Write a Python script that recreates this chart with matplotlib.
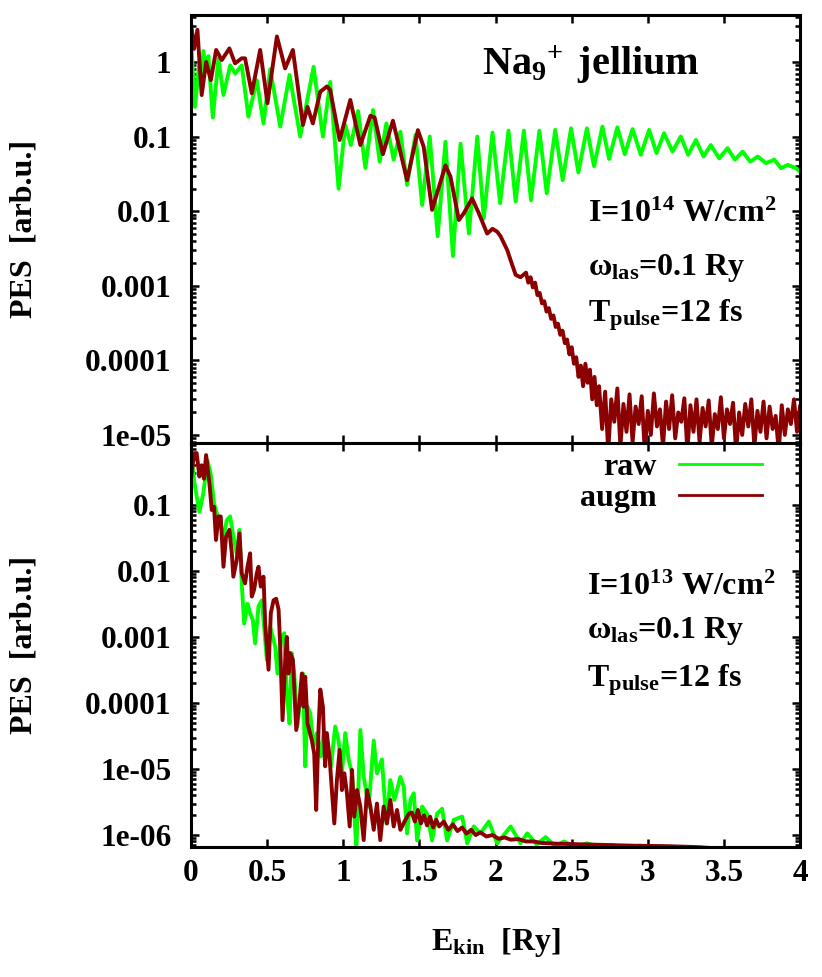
import numpy as np
import matplotlib.pyplot as plt
from matplotlib.ticker import LogLocator, NullFormatter

# === Werte ===
# oberes Panel: I = 1e14 W/cm^2
e_top_raw = [0.0, 0.026, 0.055, 0.07, 0.081, 0.1, 0.114, 0.143, 0.18, 0.213, 0.257, 0.29,
             0.333, 0.377, 0.432, 0.476, 0.52, 0.586, 0.647, 0.717, 0.805, 0.866, 0.914,
             0.969, 1.013, 1.05, 1.097, 1.145, 1.195, 1.239, 1.283, 1.331, 1.375, 1.419,
             1.474, 1.518, 1.568, 1.62, 1.671, 1.72, 1.77, 1.825, 1.88, 1.923, 1.98, 2.03,
             2.085, 2.132, 2.186, 2.233, 2.288, 2.336, 2.392, 2.441, 2.496, 2.544, 2.6,
             2.647, 2.702, 2.746, 2.8, 2.849, 2.9, 2.954, 3.009, 3.057, 3.107, 3.162,
             3.217, 3.265, 3.316, 3.366, 3.414, 3.469, 3.524, 3.572, 3.623, 3.673, 3.722,
             3.776, 3.831, 3.875, 3.919, 3.974, 4.0]
pes_top_raw = [1.9, 0.25, 1.0, 0.6, 1.4, 0.75, 1.2, 0.18, 1.1, 0.36, 0.9, 0.7,
               0.9, 0.185, 0.57, 0.15, 0.8, 0.136, 0.67, 0.1, 0.86, 0.1, 0.54,
               0.02, 0.143, 0.077, 0.22, 0.038, 0.227, 0.046, 0.15, 0.049, 0.116, 0.0225,
               0.105, 0.0121, 0.1, 0.0046, 0.085, 0.0025, 0.08, 0.005, 0.1, 0.008, 0.113, 0.0128,
               0.12, 0.0135, 0.12, 0.014, 0.12, 0.0174, 0.123, 0.026, 0.129, 0.033, 0.129,
               0.04, 0.136, 0.05, 0.133, 0.058, 0.126, 0.057, 0.123, 0.06, 0.111, 0.063,
               0.1, 0.057, 0.09, 0.054, 0.077, 0.051, 0.07, 0.049, 0.063, 0.046, 0.054,
               0.044, 0.049, 0.0376, 0.0417, 0.0376, 0.034]

e_top_augm = [0.0, 0.02, 0.042, 0.07, 0.099, 0.13, 0.165, 0.202, 0.252, 0.289, 0.333, 0.355,
              0.399, 0.454, 0.502, 0.564, 0.618, 0.669, 0.735, 0.765, 0.8, 0.849, 0.893,
              0.914, 0.976, 1.046, 1.112, 1.178, 1.206, 1.26, 1.326, 1.419, 1.49, 1.528,
              1.583, 1.671, 1.704, 1.759, 1.792, 1.846, 1.89, 1.945, 1.98, 2.011, 2.033,
              2.077, 2.099, 2.132, 2.164, 2.2, 2.215, 2.23, 2.245, 2.26, 2.275, 2.29, 2.305,
              2.32, 2.335, 2.35, 2.365, 2.38, 2.395, 2.41, 2.425, 2.44, 2.455, 2.47, 2.485,
              2.5, 2.515, 2.53, 2.545, 2.56, 2.575, 2.59, 2.605, 2.62, 2.635, 2.65, 2.665,
              2.68, 2.7, 2.72, 2.74, 2.76, 2.78, 2.8, 2.82, 2.84, 2.86, 2.88, 2.9, 2.92,
              2.94, 2.96, 2.98, 3.0, 3.02, 3.04, 3.06, 3.08, 3.1, 3.12, 3.14, 3.16, 3.18,
              3.2, 3.22, 3.24, 3.26, 3.28, 3.3, 3.32, 3.34, 3.36, 3.38, 3.4, 3.42, 3.44,
              3.46, 3.48, 3.5, 3.52, 3.54, 3.56, 3.58, 3.6, 3.62, 3.64, 3.66, 3.68, 3.7,
              3.72, 3.74, 3.76, 3.78, 3.8, 3.82, 3.84, 3.86, 3.88, 3.9, 3.92, 3.94, 3.96,
              3.98, 4.0]
pes_top_augm = [3.3, 1.5, 2.7, 0.36, 1.0, 0.57, 1.45, 1.06, 1.52, 0.96, 1.12, 1.12,
                0.38, 1.45, 0.28, 2.2, 0.82, 1.45, 0.143, 0.25, 0.15, 0.4, 0.47,
                0.42, 0.09, 0.31, 0.077, 0.19, 0.18, 0.058, 0.163, 0.026, 0.122, 0.073,
                0.0104, 0.041, 0.029, 0.0076, 0.0094, 0.0148, 0.0094, 0.005, 0.0058, 0.0053, 0.0046,
                0.003, 0.0022, 0.0014, 0.0013, 1.5e-3, 1.1e-3, 1.3e-3, 9.5e-4, 1.1e-3, 7.5e-4, 8e-4, 5.8e-4,
                6.2e-4, 4.5e-4, 5e-4, 3.6e-4, 4e-4, 2.8e-4, 3.1e-4, 2.2e-4, 2.5e-4, 1.7e-4, 1.9e-4, 1.2e-4,
                1.5e-4, 9e-5, 1.1e-4, 6e-5, 8.5e-5, 4.5e-5, 9e-5, 5e-5, 7.5e-5, 3e-5, 6e-5, 2.5e-5,
                4.5e-5, 1.2e-5, 3.8e-5, 6e-6, 3.0e-5, 1.5e-5, 4.2e-5, 7e-6, 2.6e-5, 1.1e-5, 3.5e-5, 8e-6, 2.4e-5,
                1.4e-5, 3.3e-5, 6e-6, 2.1e-5, 1.0e-5, 3.6e-5, 1.3e-5, 2.2e-5, 7e-6, 2.8e-5, 1.2e-5, 3.4e-5, 9e-6,
                2.0e-5, 1.5e-5, 3.1e-5, 6e-6, 2.5e-5, 1.1e-5, 3.0e-5, 8e-6, 2.3e-5, 1.3e-5, 2.9e-5, 7e-6, 1.9e-5,
                1.2e-5, 3.2e-5, 9e-6, 2.2e-5, 1.4e-5, 2.7e-5, 6e-6, 2.0e-5, 1.0e-5, 2.6e-5, 1.3e-5, 3.0e-5, 7e-6,
                2.1e-5, 1.1e-5, 2.8e-5, 9e-6, 2.4e-5, 1.2e-5, 1.8e-5, 6e-6, 2.5e-5, 1.0e-5, 2.2e-5, 1.4e-5, 3.0e-5,
                1.1e-5, 2.4e-5]

# unteres Panel: I = 1e13 W/cm^2
e_bot_raw = [0.0, 0.004, 0.026, 0.055, 0.081, 0.107, 0.129, 0.151, 0.169, 0.191, 0.213, 0.235,
             0.257, 0.278, 0.3, 0.318, 0.333, 0.349, 0.371, 0.388, 0.406, 0.421, 0.443, 0.465,
             0.487, 0.498, 0.52, 0.553, 0.568, 0.59, 0.612, 0.629, 0.647, 0.662, 0.678, 0.699,
             0.721, 0.735, 0.75, 0.765, 0.783, 0.805, 0.827, 0.853, 0.871, 0.897, 0.919, 0.947,
             0.969, 0.991, 1.013, 1.035, 1.057, 1.086, 1.112, 1.134, 1.167, 1.2, 1.221, 1.254,
             1.283, 1.309, 1.336, 1.375, 1.397, 1.419, 1.441, 1.463, 1.485, 1.518, 1.55, 1.583,
             1.616, 1.649, 1.682, 1.726, 1.781, 1.814, 1.857, 1.901, 1.956, 2.011, 2.099, 2.164,
             2.208, 2.27, 2.329, 2.39, 2.45, 2.52, 2.6, 2.68, 2.76, 2.85, 2.95, 3.05, 3.15,
             3.25, 3.35, 3.45, 3.7, 4.0]
pes_bot_raw = [0.35, 0.48, 0.19, 0.079, 0.15, 0.48, 0.3, 0.106, 0.075, 0.053, 0.033, 0.059,
               0.067, 0.033, 0.0185, 0.042, 0.0065, 0.0016, 0.0032, 0.0023, 0.0018, 8e-4, 0.0029, 0.0036,
               9e-4, 4.5e-4, 1.44e-3, 7.1e-4, 2.8e-4, 9e-4, 1.14e-3, 1.4e-4, 4.9e-5, 5.7e-4, 2.8e-4, 4.4e-5,
               1.4e-4, 2.8e-4, 1.1e-5, 8.8e-5, 7e-5, 2.2e-5, 3.5e-5, 1.55e-5, 3.5e-5, 1.95e-5, 1.1e-5, 4.4e-5,
               2.7e-5, 8.6e-6, 3.5e-5, 1.4e-5, 8.6e-6, 6e-7, 3.9e-5, 7.7e-6, 2.7e-6, 2.7e-5, 8.6e-6, 1.4e-5,
               1.5e-6, 6.8e-6, 3.4e-6, 7.6e-6, 5.4e-6, 1.06e-6, 3.4e-6, 4.3e-6, 8.3e-7, 2.7e-6, 2.1e-6, 8.3e-7,
               2.1e-6, 2.5e-6, 8.3e-7, 1.7e-6, 1.9e-6, 7.5e-7, 1.35e-6, 1.06e-6, 1.6e-6, 7.5e-7, 1.35e-6, 7.5e-7,
               1.06e-6, 7.2e-7, 9.3e-7, 6.8e-7, 8e-7, 6.6e-7, 7.5e-7, 6.6e-7, 7.1e-7, 6.5e-7, 6.9e-7, 6.4e-7, 6.7e-7,
               6.3e-7, 6.5e-7, 6.0e-7, 5.5e-7, 5e-7]

e_bot_augm = [0.0, 0.02, 0.037, 0.055, 0.07, 0.085, 0.099, 0.121, 0.136, 0.151, 0.164, 0.18,
              0.195, 0.213, 0.23, 0.252, 0.268, 0.278, 0.3, 0.318, 0.333, 0.355, 0.371, 0.388,
              0.399, 0.414, 0.432, 0.443, 0.458, 0.476, 0.487, 0.509, 0.524, 0.542, 0.559, 0.575,
              0.586, 0.601, 0.618, 0.629, 0.64, 0.651, 0.669, 0.691, 0.713, 0.728, 0.739, 0.75,
              0.765, 0.794, 0.809, 0.822, 0.838, 0.849, 0.866, 0.881, 0.892, 0.91, 0.925, 0.941,
              0.958, 0.976, 0.991, 1.007, 1.024, 1.042, 1.057, 1.072, 1.09, 1.112, 1.134, 1.156,
              1.178, 1.2, 1.221, 1.243, 1.265, 1.287, 1.309, 1.331, 1.353, 1.375, 1.408, 1.43,
              1.45, 1.47, 1.49, 1.51, 1.53, 1.55, 1.57, 1.59, 1.61, 1.63, 1.66, 1.69, 1.72,
              1.75, 1.78, 1.81, 1.84, 1.87, 1.9, 1.94, 1.98, 2.02, 2.06, 2.1, 2.15, 2.2,
              2.25, 2.3, 2.4, 2.5, 2.6, 2.7, 2.8, 2.9, 3.0, 3.1, 3.2, 3.3, 3.4, 3.6, 4.0]
pes_bot_augm = [0.25, 0.61, 0.61, 0.27, 0.4, 0.25, 0.57, 0.21, 0.084, 0.094, 0.0295, 0.067,
                0.067, 0.0116, 0.033, 0.042, 0.0185, 0.0082, 0.0147, 0.037, 0.0092, 0.0065, 0.0116, 0.0185,
                0.0041, 0.0052, 0.0092, 0.0116, 0.0058, 0.0082, 0.0016, 3.2e-4, 0.0023, 0.0036, 0.0038, 0.0026,
                7.1e-4, 5.5e-5, 4e-4, 1e-3, 2.8e-4, 5.7e-4, 4.5e-4, 3.9e-5, 1.1e-4, 2.8e-4, 8.8e-5, 2.5e-4,
                4.9e-5, 2.7e-5, 1.7e-5, 2.4e-6, 4.4e-5, 1.6e-4, 8.8e-5, 1.1e-5, 3.5e-5, 1.5e-5, 4.8e-6, 1.5e-6,
                6.8e-6, 1.95e-5, 4.8e-6, 8.6e-6, 4.3e-6, 1.35e-6, 9.7e-6, 1.9e-6, 4.8e-6, 2.7e-6, 8.4e-7, 4.8e-6,
                2.7e-6, 1.2e-6, 3e-6, 8.4e-7, 2.7e-6, 1.5e-6, 3.4e-6, 1.35e-6, 2.4e-6, 1.2e-6, 1.7e-6, 2.1e-6,
                2.2e-6, 1.6e-6, 2.4e-6, 1.5e-6, 2.0e-6, 1.4e-6, 1.9e-6, 1.3e-6, 1.7e-6, 1.35e-6, 1.6e-6, 1.2e-6, 1.45e-6,
                1.15e-6, 1.3e-6, 1.05e-6, 1.2e-6, 1.0e-6, 1.1e-6, 9.5e-7, 1.0e-6, 8.8e-7, 9.2e-7, 8.5e-7, 8.7e-7, 8e-7,
                8e-7, 7.6e-7, 7.4e-7, 7.3e-7, 7.2e-7, 7.1e-7, 7e-7, 6.9e-7, 6.85e-7, 6.8e-7, 6.7e-7, 6.6e-7, 6.4e-7, 6e-7, 5.5e-7]

x_ticks = [0, 0.5, 1, 1.5, 2, 2.5, 3, 3.5, 4]
x_ticklabels = ['0', '0.5', '1', '1.5', '2', '2.5', '3', '3.5', '4']
y_ticks_top = [1, 0.1, 0.01, 0.001, 0.0001, 1e-5]
y_ticklabels_top = ['1', '0.1', '0.01', '0.001', '0.0001', '1e-05']
y_ticks_bot = [0.1, 0.01, 0.001, 0.0001, 1e-5, 1e-6]
y_ticklabels_bot = ['0.1', '0.01', '0.001', '0.0001', '1e-05', '1e-06']

# === Stil ===
plt.rcParams['font.family'] = ['Liberation Serif', 'DejaVu Serif']
plt.rcParams['font.weight'] = 'bold'
plt.rcParams['mathtext.fontset'] = 'custom'
plt.rcParams['mathtext.rm'] = 'Liberation Serif:bold'
plt.rcParams['mathtext.bf'] = 'Liberation Serif:bold'
plt.rcParams['mathtext.it'] = 'Liberation Serif:bold'
plt.rcParams['mathtext.default'] = 'rm'

c_raw = '#00ff00'
c_augm = '#8b0000'
lw = 2.8

fig = plt.figure(figsize=(8.22, 9.77), dpi=100)
ax1 = fig.add_axes([0.2324, 0.5466, 0.7409, 0.4381])
ax2 = fig.add_axes([0.2324, 0.1331, 0.7409, 0.4135])

ax1.plot(e_top_raw, pes_top_raw, color=c_raw, lw=lw, label='raw')
ax1.plot(e_top_augm, pes_top_augm, color=c_augm, lw=lw, label='augm')
ax2.plot(e_bot_raw, pes_bot_raw, color=c_raw, lw=lw, label='raw')
ax2.plot(e_bot_augm, pes_bot_augm, color=c_augm, lw=lw, label='augm')

for ax, yt, ytl in ((ax1, y_ticks_top, y_ticklabels_top), (ax2, y_ticks_bot, y_ticklabels_bot)):
    ax.set_yscale('log')
    ax.set_xlim(0, 4)
    ax.set_xticks(x_ticks, x_ticklabels)
    ax.set_yticks(yt, ytl)
    ax.yaxis.set_minor_locator(LogLocator(base=10, subs=np.arange(2, 10)))
    ax.yaxis.set_minor_formatter(NullFormatter())
    ax.tick_params(which='both', direction='in', top=True, right=True, width=1.8)
    ax.tick_params(which='major', length=6, labelsize=22.5, pad=14)
    ax.tick_params(which='minor', length=3.5)
    for s in ax.spines.values():
        s.set_linewidth(2.2)
    ax.set_ylabel('PES  [arb.u.]', fontsize=23, fontweight='bold')
    ax.yaxis.set_label_coords(-0.250, 0.5)

ax1.set_ylim(7.8e-6, 4.27)
ax2.set_ylim(6.6e-7, 0.87)
ax1.tick_params(axis='x', labelbottom=False)
ax2.tick_params(axis='x', pad=9)

ax2.set_xlabel('E$_{kin}$  [Ry]', fontsize=23, fontweight='bold')
ax2.xaxis.set_label_coords(0.5, -0.195)

# === Beschriftungen ===
ax1.text(0.478, 0.860, r'Na$_9\!{}^+$ jellium', fontsize=29, transform=ax1.transAxes, va='baseline')
ax1.text(0.652, 0.516, 'I=10$^{14}$ W/cm$^2$', fontsize=23, transform=ax1.transAxes, va='baseline')
ax1.text(0.652, 0.393, 'ω$_{las}$=0.1 Ry', fontsize=23, transform=ax1.transAxes, va='baseline')
ax1.text(0.652, 0.283, 'T$_{pulse}$=12 fs', fontsize=23, transform=ax1.transAxes, va='baseline')

ax2.text(0.650, 0.624, 'I=10$^{13}$ W/cm$^2$', fontsize=23, transform=ax2.transAxes, va='baseline')
ax2.text(0.650, 0.517, 'ω$_{las}$=0.1 Ry', fontsize=23, transform=ax2.transAxes, va='baseline')
ax2.text(0.650, 0.396, 'T$_{pulse}$=12 fs', fontsize=23, transform=ax2.transAxes, va='baseline')

# Legende: Text links vom Strich, rechtsbuendig (markerfirst=False)
leg = ax2.legend(loc='upper right', bbox_to_anchor=(0.938, 0.975), frameon=False,
                 markerfirst=False, fontsize=23, handlelength=2.6, handletextpad=0.7,
                 labelspacing=0.05, borderpad=0, borderaxespad=0)
for line in leg.get_lines():
    line.set_linewidth(2.0)

fig.savefig('out.png', dpi=100)
